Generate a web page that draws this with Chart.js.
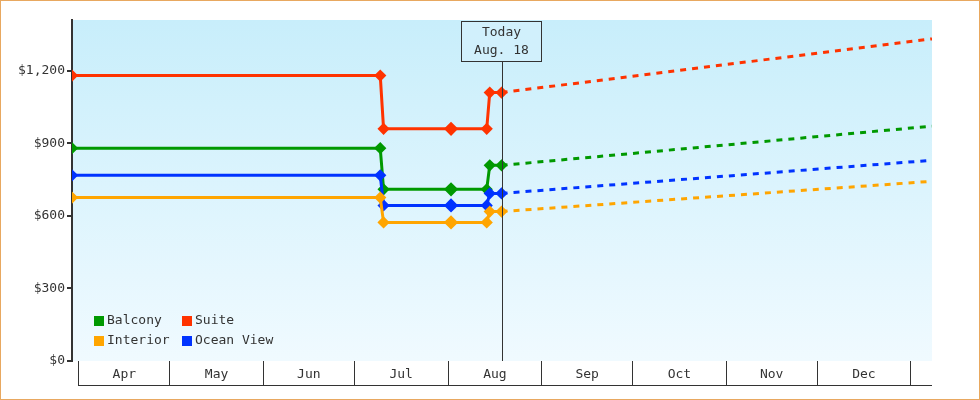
<!DOCTYPE html>
<html><head><meta charset="utf-8">
<script src="https://cdn.jsdelivr.net/npm/chart.js@4/dist/chart.umd.min.js"></script>
<style>
  html,body{margin:0;padding:0;background:#fff;}
  #wrap{width:978px;height:398px;border:1px solid #e8a860;}
</style></head>
<body><div id="wrap"><canvas id="c" width="978" height="398"></canvas></div>
<script>
  // days counted from Apr 1
  const monthStarts = [0, 30, 61, 91, 122, 153, 183, 214, 244, 275];
  const monthNames = ['Apr', 'May', 'Jun', 'Jul', 'Aug', 'Sep', 'Oct', 'Nov', 'Dec'];
  const yTicks = [0, 300, 600, 900, 1200];
  const todayDay = 139.7;
  const todayLabel = ['Today', 'Aug. 18'];

  const pastDays = [-2.3, 99.6, 100.7, 123, 134.8, 135.8, 139.7];
  const futureDays = [139.7, 282];

  const balconyPast = [880, 880, 710, 710, 710, 809, 809];
  const balconyFuture = [809, 971];
  const suitePast = [1180, 1180, 960, 960, 960, 1110, 1110];
  const suiteFuture = [1110, 1332];
  const interiorPast = [676, 676, 573, 573, 573, 618, 618];
  const interiorFuture = [618, 743];
  const oceanPast = [768, 768, 643, 643, 643, 693, 693];
  const oceanFuture = [693, 830];

  const series = [
    { name: 'Balcony', color: '#009900', past: balconyPast, future: balconyFuture },
    { name: 'Suite', color: '#ff3300', past: suitePast, future: suiteFuture },
    { name: 'Interior', color: '#ffa500', past: interiorPast, future: interiorFuture },
    { name: 'Ocean View', color: '#0033ff', past: oceanPast, future: oceanFuture }
  ];

  const FONT = 'DejaVu Sans Mono';
  const datasets = [];
  // draw order: interior, ocean, balcony, suite
  [2, 3, 0, 1].forEach(i => {
    const s = series[i];
    datasets.push({
      label: s.name, borderColor: s.color, backgroundColor: s.color, borderWidth: 3,
      data: s.past.map((v, k) => ({ x: pastDays[k], y: v })),
      pointRadius: s.past.map((v, k) => k === 3 ? 5 : 4), pointStyle: 'rectRot', tension: 0
    });
    datasets.push({
      label: s.name + ' future', borderColor: s.color, borderWidth: 3, borderDash: [6, 6],
      data: s.future.map((v, k) => ({ x: futureDays[k], y: v })), pointRadius: 0
    });
  });

  const decor = {
    id: 'decor',
    beforeDraw(chart) {
      const { ctx, chartArea: a } = chart;
      const g = ctx.createLinearGradient(0, a.top, 0, a.bottom);
      g.addColorStop(0, '#c8eefb');
      g.addColorStop(1, '#f0faff');
      ctx.fillStyle = g;
      ctx.fillRect(a.left, a.top, a.right - a.left, a.bottom - a.top);
    },
    afterDatasetsDraw(chart) {
      const { ctx, chartArea: a, scales: { x, y } } = chart;
      ctx.save();
      ctx.strokeStyle = '#333'; ctx.lineWidth = 1;
      // today line and box
      const tx = Math.round(x.getPixelForValue(todayDay)) + 0.5;
      ctx.beginPath(); ctx.moveTo(tx, 60); ctx.lineTo(tx, a.bottom); ctx.stroke();
      ctx.fillStyle = 'rgba(210,240,252,0.9)';
      ctx.fillRect(460, 20, 81, 40);
      ctx.strokeRect(460.5, 20.5, 80, 40);
      ctx.fillStyle = '#333'; ctx.font = '13px ' + FONT; ctx.textAlign = 'center'; ctx.textBaseline = 'middle';
      ctx.fillText(todayLabel[0], 500.5, 32);
      ctx.fillText(todayLabel[1], 500.5, 50);
      // month labels
      for (let i = 0; i < monthNames.length; i++) {
        const mx = (x.getPixelForValue(monthStarts[i]) + x.getPixelForValue(monthStarts[i + 1])) / 2;
        ctx.fillText(monthNames[i], mx, a.bottom + 14);
      }
      // bottom line
      ctx.beginPath(); ctx.moveTo(a.left + 6, a.bottom + 24.5); ctx.lineTo(a.right, a.bottom + 24.5); ctx.stroke();
      // legend
      ctx.textAlign = 'left';
      series.forEach((s, i) => {
        const lx = 93 + (i % 2) * 88, ly = 320 + Math.floor(i / 2) * 20;
        ctx.fillStyle = s.color; ctx.fillRect(lx, ly - 5, 10, 10);
        ctx.fillStyle = '#333'; ctx.fillText(s.name, lx + 13, ly);
      });
      ctx.restore();
    }
  };

  new Chart(document.getElementById('c'), {
    type: 'line',
    data: { datasets },
    plugins: [decor],
    options: {
      responsive: false, animation: false,
      layout: { padding: { top: 19, right: 47, left: 0, bottom: 0 } },
      plugins: { legend: { display: false }, tooltip: { enabled: false } },
      scales: {
        x: {
          type: 'linear', min: -2.3, max: 282,
          afterBuildTicks: s => { s.ticks = monthStarts.map(v => ({ value: v })); },
          ticks: { callback: () => '', font: { family: FONT } },
          grid: { drawOnChartArea: false, tickLength: 24, color: '#333' },
          border: { display: false },
          afterFit: s => { s.height = 38; }
        },
        y: {
          min: 0, max: 1410,
          afterBuildTicks: s => { s.ticks = yTicks.map(v => ({ value: v })); },
          ticks: { color: '#333', font: { family: FONT, size: 13 }, padding: 2,
            callback: v => '$' + v.toLocaleString('en-US') },
          grid: { drawOnChartArea: false, tickLength: 5, color: '#333', lineWidth: 2 },
          border: { color: '#333', width: 2 },
          afterFit: s => { s.width = 71; }
        }
      }
    }
  });
</script></body></html>
